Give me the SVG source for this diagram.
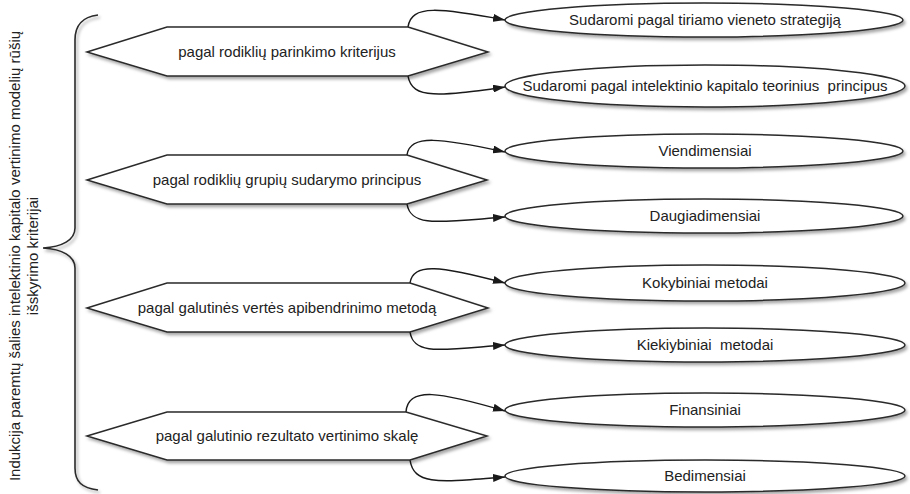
<svg xmlns="http://www.w3.org/2000/svg" width="910" height="494" viewBox="0 0 910 494">
  <defs>
    <filter id="shadow" x="-10%" y="-30%" width="120%" height="170%">
      <feDropShadow dx="2" dy="2.5" stdDeviation="1.5" flood-color="#000" flood-opacity="0.35"/>
    </filter>
    <marker id="arrow" viewBox="0 0 12 8" refX="12" refY="4" markerWidth="12" markerHeight="8" markerUnits="userSpaceOnUse" orient="auto">
      <path d="M0,0 L12,4 L0,8 Z" fill="#1a1a1a"/>
    </marker>
  </defs>
  <style>
    .shape { fill: #fff; stroke: #2a2a2a; stroke-width: 1.5; filter: url(#shadow); }
    .edge { fill: none; stroke: #1a1a1a; stroke-width: 1.5; marker-end: url(#arrow); }
    .brace { fill: none; stroke: #2a2a2a; stroke-width: 1.6; filter: url(#shadow); }
    text { font-family: "Liberation Sans", Arial, sans-serif; font-size: 15px; fill: #222; text-anchor: middle; white-space: pre; }
  </style>

  <rect width="910" height="494" fill="#fff"/>

  <!-- vertical title and brace -->
  <g id="title">
    <text transform="translate(20,256) rotate(-90)">Indukcija paremtų šalies intelektinio kapitalo vertinimo modelių rūšių</text>
    <text transform="translate(38,256) rotate(-90)">išskyrimo kriterijai</text>
  </g>
  <g id="brace">
    <path class="brace" d="M98,15 C82,17 75,25 75,40 L75,228 C75,240 62,247 43,248 C62,249 75,256 75,268 L75,468 C75,482 82,488 98,490"/>
  </g>

  <!-- connectors -->
  <g id="connectors">
    <path class="edge" d="M408,27 C411,4 440,8 505,20"/>
    <path class="edge" d="M408,76 C412,100 440,96 505,87"/>
    <path class="edge" d="M407,155 C410,134 440,138 505,152"/>
    <path class="edge" d="M407,204 C411,228 440,222 505,217"/>
    <path class="edge" d="M410,283 C413,262 440,266 505,283"/>
    <path class="edge" d="M410,332 C414,356 440,350 505,345"/>
    <path class="edge" d="M406,412 C408,386 440,392 505,411"/>
    <path class="edge" d="M410,460 C414,486 440,482 505,477"/>
  </g>

  <!-- criteria (hexagons) -->
  <g id="criterion1">
    <polygon class="shape" points="87,52 167,27 408,27 488,52 408,76 167,76"/>
    <text x="287" y="57">pagal rodiklių parinkimo kriterijus</text>
  </g>
  <g id="criterion2">
    <polygon class="shape" points="87,180 167,155 407,155 487,180 407,204 167,204"/>
    <text x="287" y="185">pagal rodiklių grupių sudarymo principus</text>
  </g>
  <g id="criterion3">
    <polygon class="shape" points="87,308 167,283 410,283 488,308 410,332 167,332"/>
    <text x="287" y="313">pagal galutinės vertės apibendrinimo metodą</text>
  </g>
  <g id="criterion4">
    <polygon class="shape" points="87,436 167,412 406,412 487,436 410,460 167,460"/>
    <text x="287" y="441">pagal galutinio rezultato vertinimo skalę</text>
  </g>

  <!-- model types (ellipses) -->
  <g id="type1">
    <ellipse class="shape" cx="704" cy="20" rx="199" ry="17"/>
    <text x="705" y="25">Sudaromi pagal tiriamo vieneto strategiją</text>
  </g>
  <g id="type2">
    <ellipse class="shape" cx="705" cy="86" rx="200" ry="21"/>
    <text x="705" y="90.5">Sudaromi pagal intelektinio kapitalo teorinius  principus</text>
  </g>
  <g id="type3">
    <ellipse class="shape" cx="704" cy="151" rx="199" ry="17"/>
    <text x="705" y="155.5">Viendimensiai</text>
  </g>
  <g id="type4">
    <ellipse class="shape" cx="704" cy="216" rx="199" ry="17"/>
    <text x="705" y="220.5">Daugiadimensiai</text>
  </g>
  <g id="type5">
    <ellipse class="shape" cx="705" cy="283" rx="200" ry="18"/>
    <text x="705" y="287.5">Kokybiniai metodai</text>
  </g>
  <g id="type6">
    <ellipse class="shape" cx="705" cy="345" rx="200" ry="17"/>
    <text x="705" y="349.5">Kiekiybiniai  metodai</text>
  </g>
  <g id="type7">
    <ellipse class="shape" cx="705" cy="410" rx="200" ry="17"/>
    <text x="705" y="414.5">Finansiniai</text>
  </g>
  <g id="type8">
    <ellipse class="shape" cx="705" cy="476" rx="200" ry="16"/>
    <text x="705" y="480.5">Bedimensiai</text>
  </g>
</svg>
